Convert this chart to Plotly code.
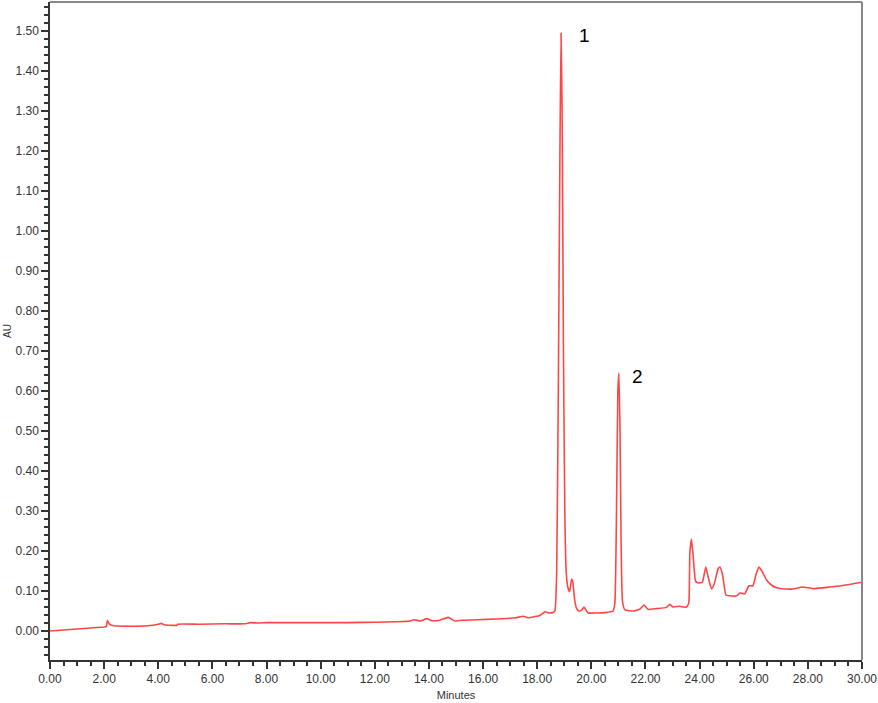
import plotly.graph_objects as go

# Chromatogram trace (minutes, AU)
minutes = [
    0.0, 1.0, 2.0, 2.08, 2.12, 2.2, 2.35, 3.0, 3.6, 4.0, 4.1, 4.25, 4.6, 4.68, 4.72,
    5.5, 6.5, 7.2, 7.4, 7.7, 8.0, 9.0, 10.0, 11.0, 12.0, 12.8, 13.3, 13.45, 13.7,
    13.92, 14.1, 14.4, 14.71, 14.96, 15.2, 15.8, 16.5, 17.2, 17.49, 17.66, 17.9,
    18.1, 18.29, 18.45, 18.6, 18.66,
    18.72, 18.78, 18.84, 18.88, 18.92, 18.97, 19.02, 19.07, 19.13, 19.2, 19.27, 19.31,
    19.38, 19.45, 19.54, 19.64, 19.73, 19.82, 19.89, 20.2, 20.5, 20.8,
    20.87, 20.93, 20.98, 21.02, 21.06, 21.1, 21.15, 21.24, 21.55, 21.8, 21.94, 22.1,
    22.4, 22.78, 22.9, 23.02, 23.27, 23.4, 23.52, 23.6,
    23.64, 23.7, 23.76, 23.85, 23.95, 24.1, 24.18, 24.23, 24.3, 24.44, 24.55, 24.68,
    24.75, 24.85, 24.97, 25.1, 25.37, 25.49, 25.67, 25.82, 25.97, 26.08, 26.19, 26.3,
    26.47, 26.65, 26.84, 27.2, 27.45, 27.8, 28.2, 28.8, 29.4, 30.0,
]
au = [
    0.0, 0.005, 0.01, 0.011, 0.026, 0.017, 0.013, 0.012, 0.013, 0.017, 0.019, 0.015, 0.014, 0.014, 0.017,
    0.017, 0.018, 0.018, 0.021, 0.020, 0.021, 0.021, 0.021, 0.021, 0.022, 0.023, 0.025, 0.028, 0.025,
    0.031, 0.026, 0.027, 0.034, 0.025, 0.027, 0.028, 0.030, 0.033, 0.037, 0.033, 0.036,
    0.039, 0.048, 0.045, 0.047, 0.052,
    0.15, 0.6, 1.2, 1.495, 1.3, 0.7, 0.3, 0.15, 0.11, 0.098, 0.13, 0.125,
    0.08, 0.057, 0.05, 0.052, 0.06, 0.05, 0.045, 0.045, 0.046, 0.05,
    0.07, 0.3, 0.6, 0.645, 0.5, 0.22, 0.075, 0.053, 0.05, 0.055, 0.065, 0.054,
    0.056, 0.059, 0.067, 0.06, 0.062, 0.06, 0.06, 0.07,
    0.195, 0.23, 0.19, 0.125, 0.12, 0.122, 0.145, 0.16, 0.14, 0.105, 0.12, 0.155,
    0.16, 0.14, 0.09, 0.088, 0.088, 0.095, 0.093, 0.113, 0.113, 0.14, 0.16, 0.15,
    0.128, 0.115, 0.108, 0.105, 0.105, 0.11, 0.106, 0.11, 0.115, 0.122,
]

peak_labels = ["1", "2"]
peak_label_x = [19.76, 21.72]
peak_label_y = [1.49, 0.6375]

fig = go.Figure()
fig.add_trace(go.Scatter(
    x=minutes, y=au, mode="lines",
    line=dict(color="rgb(255,70,70)", width=1.6, shape="spline", smoothing=0.4),
    showlegend=False, hoverinfo="skip",
))

for t, xx, yy in zip(peak_labels, peak_label_x, peak_label_y):
    fig.add_annotation(x=xx, y=yy, text=t, showarrow=False,
                       font=dict(family="Liberation Sans, Arial", size=19, color="black"))

tickfont = dict(family="Liberation Sans, Arial", size=12, color="#333333")

fig.update_layout(
    width=878, height=703,
    margin=dict(l=50, r=16, t=2, b=43),
    paper_bgcolor="white", plot_bgcolor="white",
    xaxis=dict(
        range=[0, 30], dtick=2, tick0=0, tickformat=".2f",
        showgrid=False, zeroline=False,
        showline=True, linecolor="#333333", linewidth=1.5,
        ticks="outside", ticklen=7, tickcolor="#333333", tickwidth=1.5,
        minor=dict(dtick=0.5, ticks="outside", ticklen=4, tickcolor="#333333", tickwidth=1.5),
        tickfont=tickfont,
        title=dict(text="Minutes", font=dict(family="Liberation Sans, Arial", size=11, color="#333333"),
                   standoff=6),
    ),
    yaxis=dict(
        range=[-0.0725, 1.5725], dtick=0.1, tick0=0, tickformat=".2f",
        showgrid=False, zeroline=False,
        showline=True, linecolor="#333333", linewidth=1.5,
        ticks="outside", ticklen=7, tickcolor="#333333", tickwidth=1.5,
        minor=dict(dtick=0.02, ticks="outside", ticklen=4, tickcolor="#333333", tickwidth=1.5),
        tickfont=tickfont,
        title=dict(text="AU", font=dict(family="Liberation Sans, Arial", size=10, color="#333333"),
                   standoff=2),
    ),
)

# gray frame on top and right
fig.add_shape(type="line", xref="paper", yref="paper", x0=0, x1=1, y0=1, y1=1,
              line=dict(color="#888888", width=2))
fig.add_shape(type="line", xref="paper", yref="paper", x0=1, x1=1, y0=0, y1=1,
              line=dict(color="#888888", width=2))

fig.write_html("out.html", config={"displayModeBar": False},
               post_script="document.body.style.margin='0';")
